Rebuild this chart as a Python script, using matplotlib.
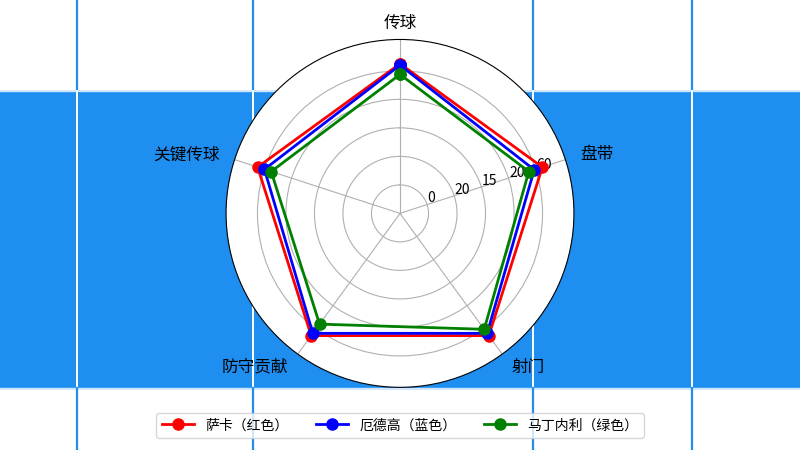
import numpy as np
import matplotlib

matplotlib.use("Agg")
import matplotlib.pyplot as plt

plt.rcParams["font.family"] = ["Noto Sans CJK SC", "DejaVu Sans"]
plt.rcParams["axes.unicode_minus"] = False

# categories, clockwise from the top
categories = ["传球", "盘带", "射门", "防守贡献", "关键传球"]

saka = [105, 105, 106, 106, 105]
odegaard = [104, 99, 104, 104, 100]
martinelli = [97.5, 95, 100.5, 96, 95]

player_names = ["萨卡（红色）", "厄德高（蓝色）", "马丁内利（绿色）"]
player_colors = ["red", "blue", "green"]

r_ticks = [20, 40, 60, 80, 100]
r_tick_labels = ["0", "20", "15", "20", "60"]
r_max = 122

FIELD_BLUE = "#1E8EF0"


def draw_background(fig):
    bg = fig.add_axes([0, 0, 1, 1], zorder=-10)
    bg.set_xlim(0, 800)
    bg.set_ylim(450, 0)
    bg.axis("off")
    bg.add_patch(plt.Rectangle((0, 0), 800, 450, color="white"))
    bg.add_patch(plt.Rectangle((0, 91), 800, 297, color=FIELD_BLUE))
    bg.plot([0, 800], [91, 91], color="#cfe6fb", lw=1)
    bg.plot([0, 800], [388, 388], color="#cfe6fb", lw=1)
    for x in [77, 253, 533, 692]:
        bg.plot([x, x], [0, 91], color=FIELD_BLUE, lw=1.6)
        bg.plot([x, x], [91, 388], color="white", lw=1.4)
        bg.plot([x, x], [388, 450], color=FIELD_BLUE, lw=1.6)


def main():
    fig = plt.figure(figsize=(8, 4.5), dpi=100)
    draw_background(fig)

    ax = fig.add_axes([0.2825, 0.1393, 0.435, 0.773], polar=True)
    ax.set_facecolor("white")
    ax.set_theta_offset(np.pi / 2)
    ax.set_theta_direction(-1)

    angles = np.linspace(0, 2 * np.pi, len(categories), endpoint=False).tolist()
    angles_closed = angles + angles[:1]

    for name, color, values in zip(player_names, player_colors, [saka, odegaard, martinelli]):
        vals = values + values[:1]
        ax.plot(angles_closed, vals, color=color, linewidth=2, marker="o", markersize=8, label=name)

    ax.set_xticks(angles)
    ax.set_xticklabels(categories, fontsize=12)
    ax.tick_params(axis="x", pad=1)
    for label, angle in zip(ax.get_xticklabels(), angles):
        if angle == 0:
            label.set_horizontalalignment("center")
        elif angle < np.pi:
            label.set_horizontalalignment("left")
        else:
            label.set_horizontalalignment("right")

    ax.set_yticks(r_ticks)
    ax.set_yticklabels(r_tick_labels, fontsize=10)
    ax.set_ylim(0, r_max)
    ax.set_rlabel_position(73)
    ax.grid(True, color="#b0b0b0", linewidth=0.8)
    ax.spines["polar"].set_color("black")

    handles, labels = ax.get_legend_handles_labels()
    fig.legend(handles, labels, loc="lower center", bbox_to_anchor=(0.5, 0.027), ncol=3,
               fontsize=10, borderaxespad=0, handlelength=2.3)

    fig.savefig("out.png", dpi=100)
    plt.close(fig)


if __name__ == "__main__":
    main()
